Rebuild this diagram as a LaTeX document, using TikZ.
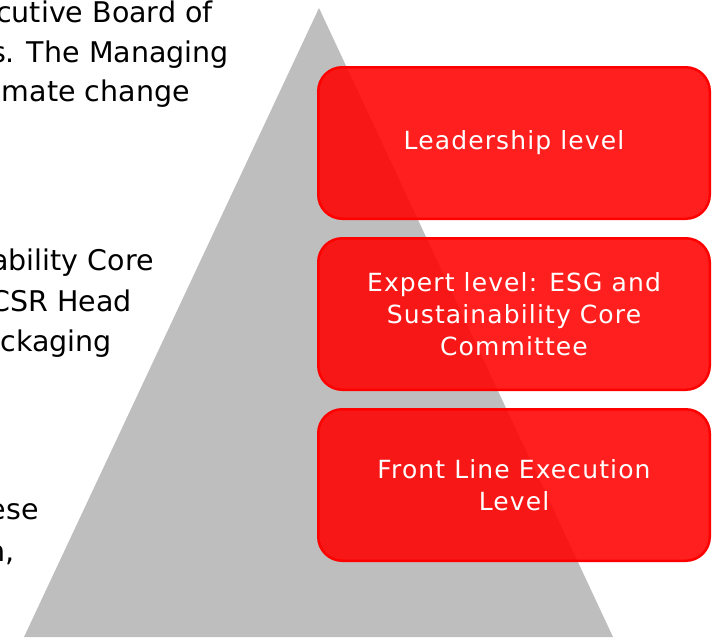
\documentclass[tikz,border=0pt]{standalone}
\usepackage{fontspec}
\setmainfont{DejaVu Sans}
\newfontfamily\levelfont[LetterSpace=4.5]{DejaVu Sans}
\usepackage{tikz}
\usetikzlibrary{positioning}
\definecolor{pyrgray}{RGB}{190,190,190}
\definecolor{levelred}{RGB}{255,0,0}

\begin{document}
\begin{tikzpicture}[x=1pt, y=-1pt,
    level/.style={draw=levelred, line width=2.5pt, fill=levelred, fill opacity=0.88, text opacity=1,
        text=white, rounded corners=24pt, minimum width=391.5pt, minimum height=151.5pt,
        align=center, font=\levelfont\fontsize{25}{31.7}\selectfont},
    side/.style={anchor=base east, inner sep=0pt, font=\fontsize{28.5}{40}\selectfont}]
        \useasboundingbox (0,0) rectangle (719,637);
        % pyramid
        \fill[pyrgray] (319,8) -- (613,637) -- (24,637) -- cycle;
        % text on the left
        \node[side] (s1) at (213,22.7) {cutive Board of};
        \node[side] (s2) at (229,62.7) {s. The Managing};
        \node[side] (s3) at (190,101.7) {imate change};
        \node[side] (s4) at (154,270.7) {ability Core};
        \node[side] (s5) at (132,311.7) {CSR Head};
        \node[side] (s6) at (112,351.7) {ckaging};
        \node[side] (s7) at (39,519) {ese};
        \node[side] (s8) at (15,561) {n,};
        % levels
        \node[level] (lead) at (514,143) {Leadership level};
        \node[level, below=17pt of lead] (expert) {Expert level: ESG and\\Sustainability Core\\Committee};
        \node[level, below=17pt of expert] (front) {Front Line Execution\\Level};
    \end{tikzpicture}
\end{document}
